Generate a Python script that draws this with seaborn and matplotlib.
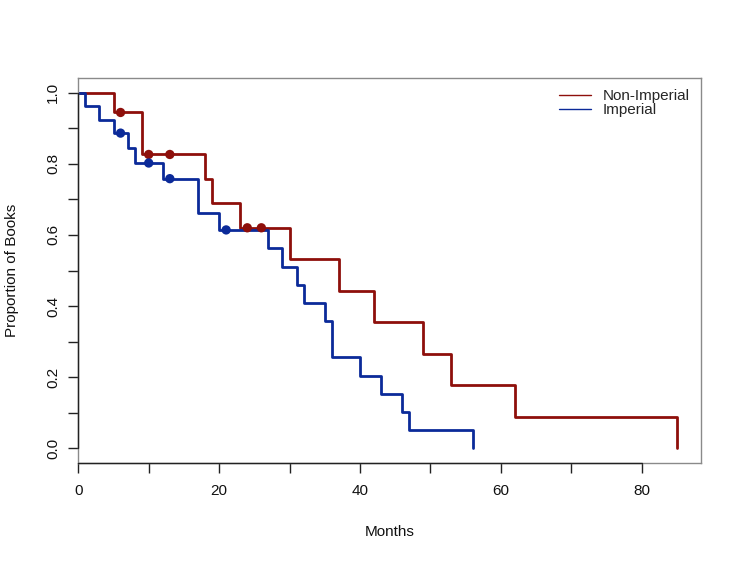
import matplotlib
matplotlib.use('Agg')
import matplotlib.pyplot as plt
import seaborn as sns
import pandas as pd
from matplotlib.lines import Line2D

# Kaplan-Meier steps
red_months = [0, 5, 9, 18, 19, 23, 30, 37, 42, 49, 53, 62, 85]
red_surv = [1.0, 0.944, 0.826, 0.758, 0.689, 0.620, 0.531, 0.443, 0.354, 0.266, 0.177, 0.089, 0.0]
red_cens_months = [6, 10, 13, 24, 26]
red_cens_surv = [0.944, 0.826, 0.826, 0.620, 0.620]

blue_months = [0, 1, 3, 5, 7, 8, 12, 17, 20, 27, 29, 31, 32, 35, 36, 40, 43, 46, 47, 56]
blue_surv = [1.0, 0.961, 0.922, 0.886, 0.843, 0.802, 0.758, 0.661, 0.614, 0.563, 0.511,
             0.460, 0.408, 0.359, 0.257, 0.204, 0.154, 0.102, 0.051, 0.0]
blue_cens_months = [6, 10, 13, 21]
blue_cens_surv = [0.886, 0.802, 0.758, 0.614]

x_ticks = [0, 10, 20, 30, 40, 50, 60, 70, 80]
x_labels = ['0', '', '20', '', '40', '', '60', '', '80']
y_ticks = [0.0, 0.1, 0.2, 0.3, 0.4, 0.5, 0.6, 0.7, 0.8, 0.9, 1.0]
y_labels = ['0.0', '', '0.2', '', '0.4', '', '0.6', '', '0.8', '', '1.0']

red = '#8E0F0B'
blue = '#0B2A99'

sns.set_theme(style='white')
plt.rcParams['font.family'] = ['Liberation Sans', 'DejaVu Sans']
plt.rcParams['font.size'] = 11

fig = plt.figure(figsize=(7.41, 5.61), dpi=100)
ax = fig.add_axes([78.3 / 741, 1 - 462.7 / 561, (700.7 - 78.3) / 741, (462.7 - 78.3) / 561])

red_df = pd.DataFrame({'months': red_months, 'surv': red_surv})
blue_df = pd.DataFrame({'months': blue_months, 'surv': blue_surv})

sns.lineplot(data=red_df, x='months', y='surv', ax=ax, color=red, lw=2.0,
             drawstyle='steps-post', estimator=None, sort=False)
sns.lineplot(data=blue_df, x='months', y='surv', ax=ax, color=blue, lw=2.0,
             drawstyle='steps-post', estimator=None, sort=False)
sns.scatterplot(x=red_cens_months, y=red_cens_surv, ax=ax, color=red, s=45,
                edgecolor='none', zorder=5)
sns.scatterplot(x=blue_cens_months, y=blue_cens_surv, ax=ax, color=blue, s=45,
                edgecolor='none', zorder=5)

ax.set_xlim(0, 88.4)
ax.set_ylim(-0.04, 1.04)

# grey box, black axis lines like base R
for sp in ax.spines.values():
    sp.set_color('#8a8a8a')
    sp.set_linewidth(1.0)
ax.plot([0, 80], [-0.04, -0.04], color='#222222', lw=1.0, clip_on=False, zorder=6)
ax.plot([0, 0], [0, 1], color='#222222', lw=1.0, clip_on=False, zorder=6)

ax.set_xticks(x_ticks)
ax.set_xticklabels(x_labels)
ax.set_yticks(y_ticks)
ax.set_yticklabels(y_labels, rotation=90, va='center')
ax.tick_params(axis='both', direction='out', length=7.2, width=1.0, color='#222222',
               labelsize=11, labelcolor='#111111')
ax.tick_params(axis='x', pad=8)
ax.tick_params(axis='y', pad=6)
ax.tick_params(left=True, bottom=True)

ax.set_xlabel('Months', fontsize=11, color='#111111')
ax.set_ylabel('Proportion of Books', fontsize=11, color='#111111')
ax.xaxis.label.set_va('center')
ax.yaxis.label.set_va('center')
ax.xaxis.set_label_coords(0.5, (462.7 - 531.7) / (462.7 - 78.3))
ax.yaxis.set_label_coords((12.5 - 78.3) / (700.7 - 78.3), 0.5)

handles = [Line2D([0], [0], color=red, lw=1.0), Line2D([0], [0], color=blue, lw=1.0)]
ax.legend(handles, ['Non-Imperial', 'Imperial'], loc='upper right', frameon=False,
          fontsize=11, handlelength=2.05, handletextpad=0.8, labelspacing=0.02,
          borderaxespad=0.3, bbox_to_anchor=(1.0, 1.0))

fig.savefig('out.png', dpi=100, facecolor='white')
